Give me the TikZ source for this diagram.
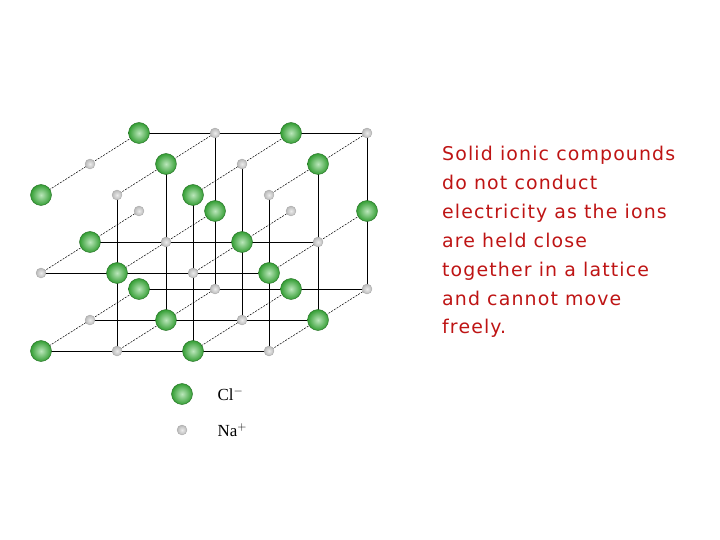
\documentclass[tikz,border=0pt]{standalone}
\usepackage{fontspec}
\setmainfont{Liberation Serif}
\newfontfamily\notefont[LetterSpace=6]{DejaVu Sans}
\definecolor{clgreen}{RGB}{60,185,60}
\definecolor{txtred}{RGB}{190,20,20}
\begin{document}
\begin{tikzpicture}[x=1bp,y=-1bp,
  cl/.style={circle,minimum size=21bp,inner sep=0pt,inner color=clgreen!35!white,outer color=clgreen!85!black,draw=clgreen!60!black,line width=0.4bp},
  na/.style={circle,minimum size=10bp,inner sep=0pt,inner color=gray!15,outer color=gray!55,draw=gray!70,line width=0.3bp},
  solidline/.style={line width=0.8bp,black},
  depthline/.style={line width=0.5bp,black,dash pattern=on 2bp off 1.2bp}]
\useasboundingbox (0,0) rectangle (720,540);
\foreach \i in {0,...,3}\foreach \j in {0,1,2}\foreach \k in {0,1,2}{
  \coordinate (p-\i-\j-\k) at ({41+76*\i+49*\k},{351-78*\j-31*\k});}
% depth lines
\foreach \i in {0,...,3}\foreach \j in {0,1,2}{
  \draw[depthline] (p-\i-\j-0) -- (p-\i-\j-2);}
% horizontal lines
\foreach \j/\k in {0/0,0/1,0/2,1/0,1/1,2/2}{
  \draw[solidline] (p-0-\j-\k) -- (p-3-\j-\k);}
% vertical lines
\foreach \i/\k in {1/0,1/1,1/2,2/0,2/1,3/0,3/1,3/2}{
  \draw[solidline] (p-\i-0-\k) -- (p-\i-2-\k);}
% ions, back to front
\foreach \k in {2,1,0}\foreach \j in {0,1,2}\foreach \i in {0,...,3}{
  \pgfmathtruncatemacro{\s}{mod(\i+\j+\k,2)}
  \ifnum\s=0 \node[cl] (ion-\i-\j-\k) at (p-\i-\j-\k) {};
  \else \node[na] (ion-\i-\j-\k) at (p-\i-\j-\k) {};\fi}
% legend
\node[cl] (lcl) at (182,394) {};
\node[anchor=west,font=\fontsize{17}{17}\selectfont] (tcl) at (214,394) {Cl$^{-}$};
\node[na] (lna) at (182,430) {};
\node[anchor=west,font=\fontsize{17}{17}\selectfont] (tna) at (214,430) {Na$^{+}$};
% text
\node[anchor=north west,align=left,inner sep=0pt,text=txtred,
  font=\notefont\fontsize{19}{29}\selectfont] (txt) at (442,146)
 {Solid ionic compounds\\do not conduct\\electricity as the ions\\are held close\\together in a lattice\\and cannot move\\freely.};
\end{tikzpicture}
\end{document}
